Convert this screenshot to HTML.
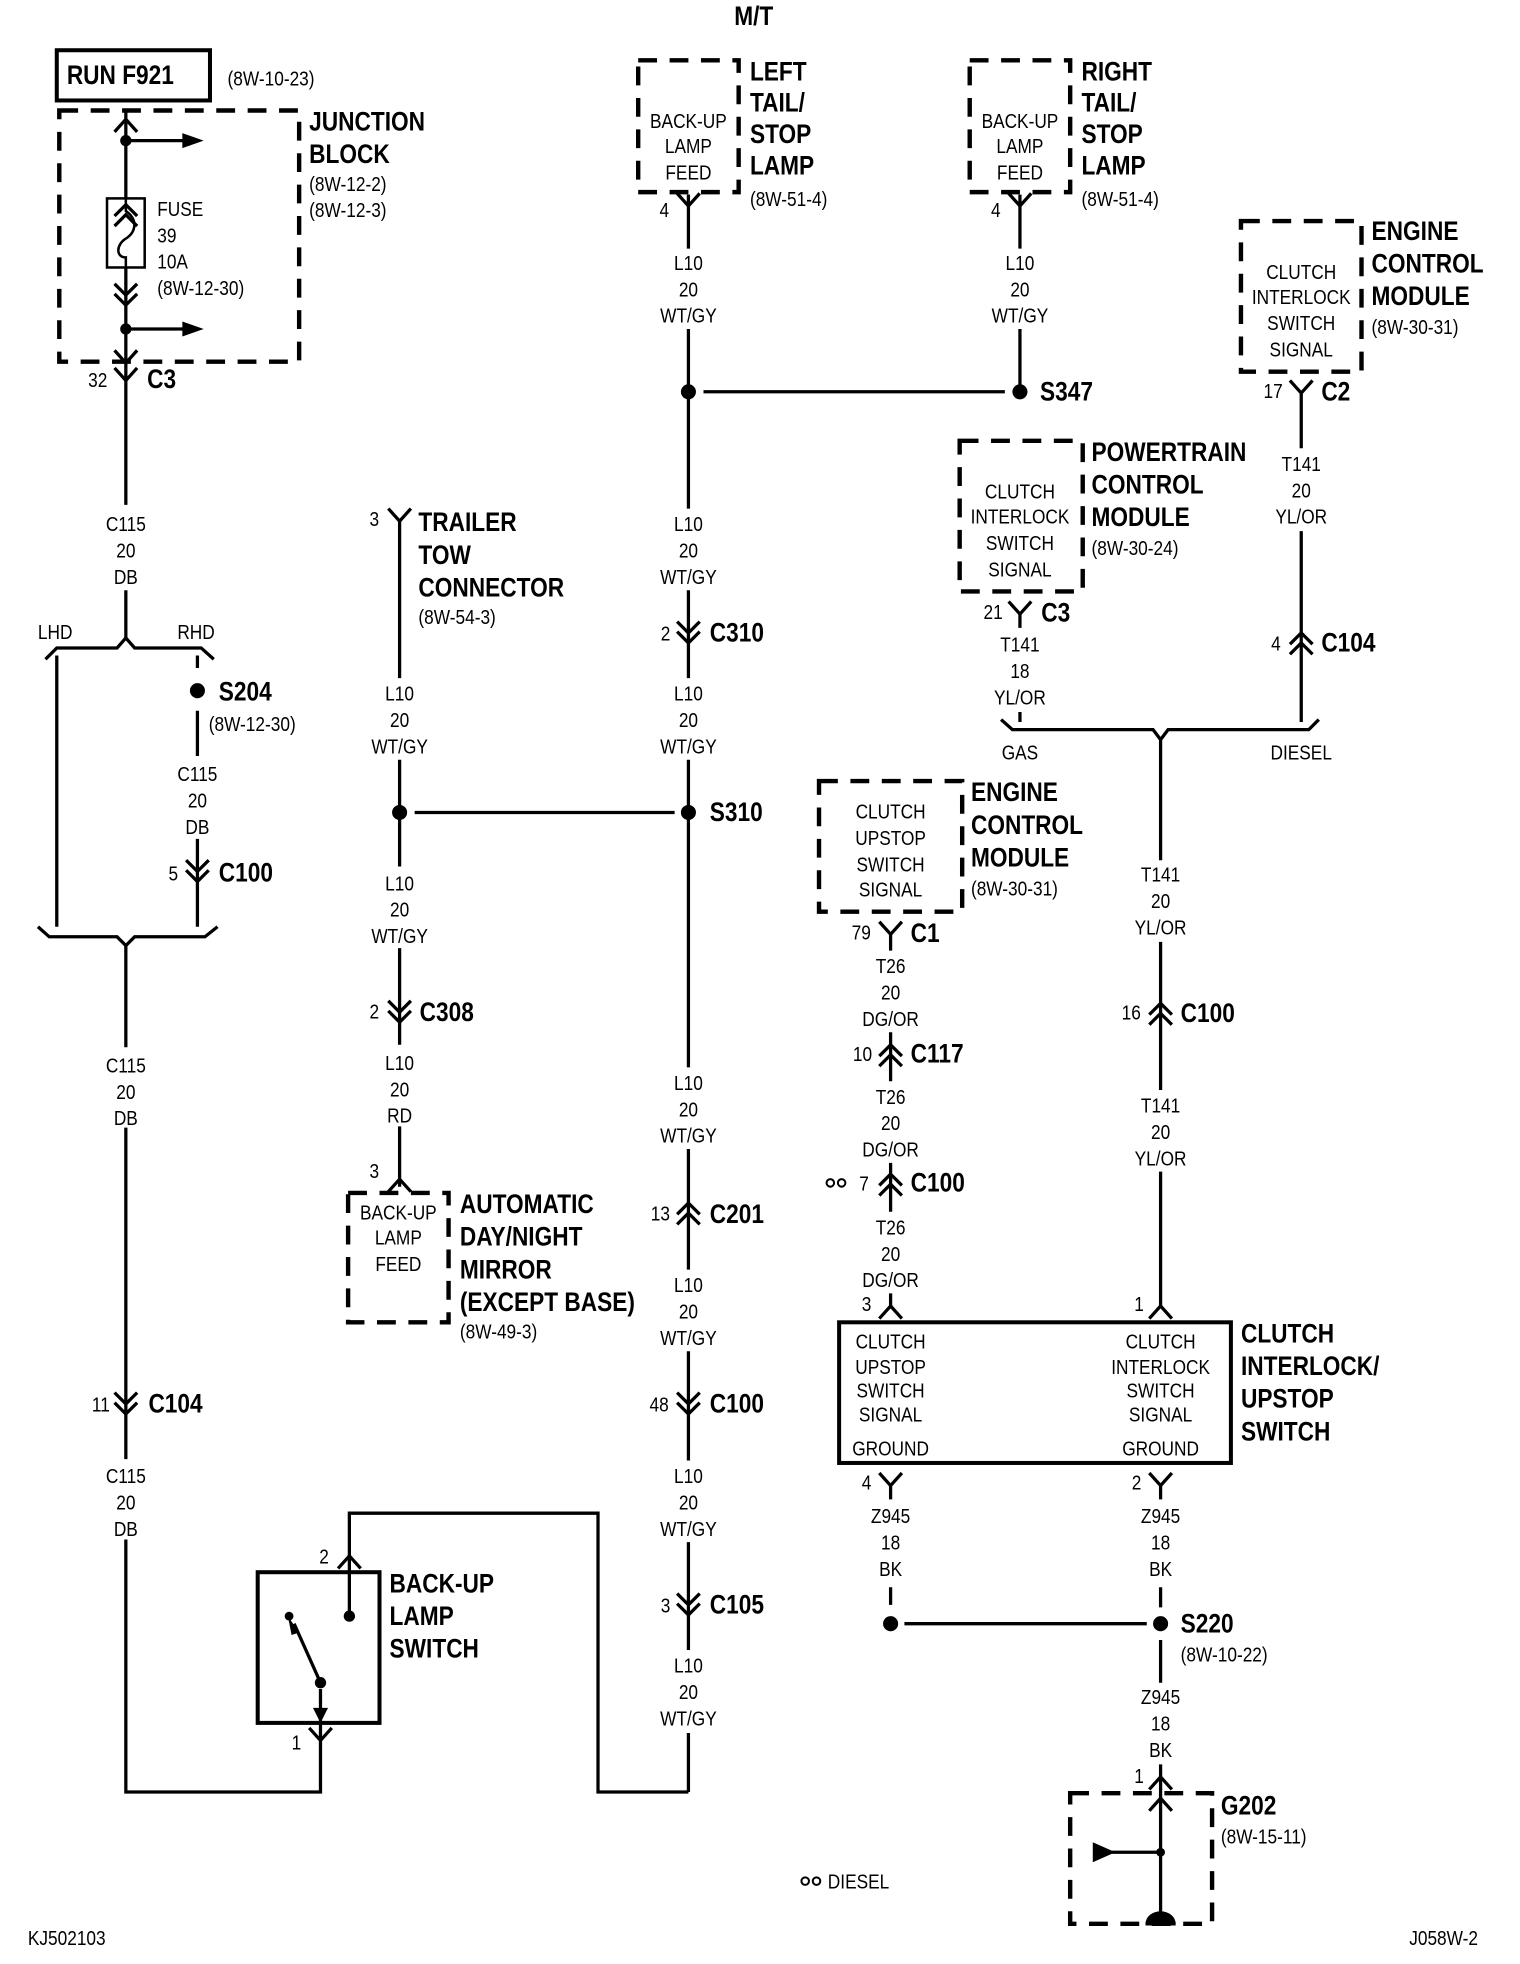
<!DOCTYPE html>
<html><head><meta charset="utf-8"><style>
html,body{margin:0;padding:0;background:#fff}
svg{display:block}
text{font-family:"Liberation Sans Narrow","Liberation Sans",sans-serif;fill:#000;transform-box:fill-box;transform-origin:0 50%;transform:scaleX(.86)}
text.m{transform-origin:50% 50%}
.s{font-size:16px}
.b{font-size:21px;font-weight:bold}
.m{text-anchor:middle}
.w{stroke:#000;stroke-width:2.6;fill:none}
.d{stroke:#000;stroke-width:3.5;fill:none;stroke-dasharray:15 10}
.k{stroke:#000;stroke-width:3.2;fill:none}
</style></head><body>
<svg width="1520" height="1964" viewBox="0 0 1210 1564" xmlns="http://www.w3.org/2000/svg">
<defs>
<path id="y" d="M-9,-9 L0,1 L9,-9" stroke="#000" stroke-width="2.6" fill="none"/>
<path id="c" d="M-9,9 L0,-1 L9,9" stroke="#000" stroke-width="2.6" fill="none"/>
<path id="dd" d="M-9,-10 L0,-1 L9,-10 M-9,-2 L0,7 L9,-2" stroke="#000" stroke-width="2.6" fill="none"/>
<path id="du" d="M-9,10 L0,1 L9,10 M-9,2 L0,-7 L9,2" stroke="#000" stroke-width="2.6" fill="none"/>
</defs>

<text x="600" y="20" class="b m">M/T</text>

<!-- Junction block -->
<rect x="45" y="40" width="122" height="40" class="k"/>
<text x="53" y="67" class="b">RUN F921</text>
<text x="181" y="68" class="s">(8W-10-23)</text>
<rect x="47" y="88" width="191" height="200" class="d"/>
<text x="246" y="104" class="b">JUNCTION</text>
<text x="246" y="130" class="b">BLOCK</text>
<text x="246" y="152" class="s">(8W-12-2)</text>
<text x="246" y="173" class="s">(8W-12-3)</text>
<path class="w" d="M100,88 V158 M100,213 V402 M100,470 V508"/>
<use href="#c" x="100" y="96"/>
<circle cx="100" cy="112" r="4.5"/>
<path class="w" d="M100,112 H148"/><path d="M145,106 L162,112 L145,118Z"/>
<use href="#du" x="100" y="170"/>
<rect x="85" y="158" width="30" height="55" fill="none" stroke="#000" stroke-width="2"/>
<path d="M100,158 V168 C110,175 108,185 100,190 C92,195 92,205 100,205 V213" fill="none" stroke="#000" stroke-width="2"/>
<text x="125" y="172" class="s">FUSE</text>
<text x="125" y="193" class="s">39</text>
<text x="125" y="214" class="s">10A</text>
<text x="125" y="235" class="s">(8W-12-30)</text>
<use href="#dd" x="100" y="236"/>
<circle cx="100" cy="262" r="4.5"/>
<path class="w" d="M100,262 H148"/><path d="M145,256 L162,262 L145,268Z"/>
<use href="#y" x="100" y="288"/>
<use href="#y" x="100" y="302"/>
<text x="70" y="308" class="s">32</text>
<text x="117" y="309" class="b">C3</text>
<text x="100" y="423" class="s m">C115</text>
<text x="100" y="444" class="s m">20</text>
<text x="100" y="465" class="s m">DB</text>

<!-- LHD/RHD -->
<path class="w" d="M36,525 L45,516 H93 L100,508 L107,516 H160 L170,525"/>
<text x="30" y="509" class="s">LHD</text>
<text x="141" y="509" class="s">RHD</text>
<path class="w" d="M45,522 V738 M157,522 V532 M157,566 V602 M157,668 V738"/>
<circle cx="157" cy="550" r="6"/>
<text x="174" y="558" class="b">S204</text>
<text x="166" y="582" class="s">(8W-12-30)</text>
<text x="157" y="622" class="s m">C115</text>
<text x="157" y="643" class="s m">20</text>
<text x="157" y="664" class="s m">DB</text>
<use href="#dd" x="157" y="695"/>
<text x="134" y="701" class="s">5</text>
<text x="174" y="702" class="b">C100</text>
<path class="w" d="M30,738 L39,746 H93 L100,753 L107,746 H163 L173,738"/>
<path class="w" d="M100,753 V834 M100,898 V1162 M100,1226 V1427 H255 V1385"/>
<text x="100" y="854" class="s m">C115</text>
<text x="100" y="875" class="s m">20</text>
<text x="100" y="896" class="s m">DB</text>
<use href="#dd" x="100" y="1119"/>
<text x="73" y="1124" class="s">11</text>
<text x="118" y="1125" class="b">C104</text>
<text x="100" y="1181" class="s m">C115</text>
<text x="100" y="1202" class="s m">20</text>
<text x="100" y="1223" class="s m">DB</text>

<!-- Backup lamp switch -->
<rect x="205" y="1252" width="97" height="120" class="k"/>
<use href="#y" x="255" y="1385"/>
<text x="232" y="1393" class="s">1</text>
<path class="w" d="M255,1385 V1345"/>
<path d="M249,1360 L255,1372 L261,1360Z"/>
<circle cx="255" cy="1340" r="4.5"/>
<path class="w" d="M255,1340 L234,1293"/>
<path d="M229,1287 L238,1300 L232,1302Z"/>
<circle cx="230" cy="1287" r="3.5"/>
<circle cx="278" cy="1287" r="4.5"/>
<path class="w" d="M278,1287 V1205 H476 V1427 H548"/>
<use href="#c" x="278" y="1240"/>
<text x="254" y="1245" class="s">2</text>
<text x="310" y="1268" class="b">BACK-UP</text>
<text x="310" y="1294" class="b">LAMP</text>
<text x="310" y="1320" class="b">SWITCH</text>

<!-- Left tail lamp -->
<rect x="508" y="48" width="80" height="105" class="d"/>
<text x="548" y="102" class="s m">BACK-UP</text>
<text x="548" y="122" class="s m">LAMP</text>
<text x="548" y="143" class="s m">FEED</text>
<text x="597" y="64" class="b">LEFT</text>
<text x="597" y="89" class="b">TAIL/</text>
<text x="597" y="114" class="b">STOP</text>
<text x="597" y="139" class="b">LAMP</text>
<text x="597" y="164" class="s">(8W-51-4)</text>
<use href="#y" x="548" y="163"/>
<text x="525" y="173" class="s">4</text>
<path class="w" d="M548,155 V198 M548,262 V405 M548,470 V540 M548,605 V850 M548,915 V1011 M548,1076 V1163 M548,1228 V1314 M548,1380 V1427"/>
<text x="548" y="215" class="s m">L10</text>
<text x="548" y="236" class="s m">20</text>
<text x="548" y="257" class="s m">WT/GY</text>
<circle cx="548" cy="312" r="6"/>
<path class="w" d="M560,312 H800"/>

<!-- Right tail lamp -->
<rect x="772" y="48" width="80" height="105" class="d"/>
<text x="812" y="102" class="s m">BACK-UP</text>
<text x="812" y="122" class="s m">LAMP</text>
<text x="812" y="143" class="s m">FEED</text>
<text x="861" y="64" class="b">RIGHT</text>
<text x="861" y="89" class="b">TAIL/</text>
<text x="861" y="114" class="b">STOP</text>
<text x="861" y="139" class="b">LAMP</text>
<text x="861" y="164" class="s">(8W-51-4)</text>
<use href="#y" x="812" y="163"/>
<text x="789" y="173" class="s">4</text>
<path class="w" d="M812,155 V198 M812,262 V312"/>
<text x="812" y="215" class="s m">L10</text>
<text x="812" y="236" class="s m">20</text>
<text x="812" y="257" class="s m">WT/GY</text>
<circle cx="812" cy="312" r="6"/>
<text x="828" y="319" class="b">S347</text>

<!-- middle column labels -->
<text x="548" y="423" class="s m">L10</text>
<text x="548" y="444" class="s m">20</text>
<text x="548" y="465" class="s m">WT/GY</text>
<use href="#dd" x="548" y="505"/>
<text x="526" y="510" class="s">2</text>
<text x="565" y="511" class="b">C310</text>
<text x="548" y="558" class="s m">L10</text>
<text x="548" y="579" class="s m">20</text>
<text x="548" y="600" class="s m">WT/GY</text>
<circle cx="548" cy="647" r="6"/>
<text x="565" y="654" class="b">S310</text>
<text x="548" y="868" class="s m">L10</text>
<text x="548" y="889" class="s m">20</text>
<text x="548" y="910" class="s m">WT/GY</text>
<use href="#du" x="548" y="965"/>
<text x="518" y="972" class="s">13</text>
<text x="565" y="974" class="b">C201</text>
<text x="548" y="1029" class="s m">L10</text>
<text x="548" y="1050" class="s m">20</text>
<text x="548" y="1071" class="s m">WT/GY</text>
<use href="#dd" x="548" y="1119"/>
<text x="517" y="1124" class="s">48</text>
<text x="565" y="1125" class="b">C100</text>
<text x="548" y="1181" class="s m">L10</text>
<text x="548" y="1202" class="s m">20</text>
<text x="548" y="1223" class="s m">WT/GY</text>
<use href="#dd" x="548" y="1279"/>
<text x="526" y="1284" class="s">3</text>
<text x="565" y="1285" class="b">C105</text>
<text x="548" y="1332" class="s m">L10</text>
<text x="548" y="1353" class="s m">20</text>
<text x="548" y="1374" class="s m">WT/GY</text>

<!-- Trailer tow -->
<use href="#y" x="318" y="414"/>
<text x="294" y="419" class="s">3</text>
<text x="333" y="423" class="b">TRAILER</text>
<text x="333" y="449" class="b">TOW</text>
<text x="333" y="475" class="b">CONNECTOR</text>
<text x="333" y="497" class="s">(8W-54-3)</text>
<path class="w" d="M318,414 V540 M318,605 V690 M318,755 V832 M318,897 V945 M330,647 H537"/>
<text x="318" y="558" class="s m">L10</text>
<text x="318" y="579" class="s m">20</text>
<text x="318" y="600" class="s m">WT/GY</text>
<circle cx="318" cy="647" r="6"/>
<text x="318" y="709" class="s m">L10</text>
<text x="318" y="730" class="s m">20</text>
<text x="318" y="751" class="s m">WT/GY</text>
<use href="#dd" x="318" y="807"/>
<text x="294" y="811" class="s">2</text>
<text x="334" y="813" class="b">C308</text>
<text x="318" y="852" class="s m">L10</text>
<text x="318" y="873" class="s m">20</text>
<text x="318" y="894" class="s m">RD</text>
<use href="#c" x="318" y="940"/>
<text x="294" y="938" class="s">3</text>
<rect x="277" y="950" width="80" height="103" class="d"/>
<text x="317" y="971" class="s m">BACK-UP</text>
<text x="317" y="991" class="s m">LAMP</text>
<text x="317" y="1012" class="s m">FEED</text>
<text x="366" y="966" class="b">AUTOMATIC</text>
<text x="366" y="992" class="b">DAY/NIGHT</text>
<text x="366" y="1018" class="b">MIRROR</text>
<text x="366" y="1044" class="b">(EXCEPT BASE)</text>
<text x="366" y="1066" class="s">(8W-49-3)</text>

<!-- PCM -->
<rect x="764" y="351" width="98" height="120" class="d"/>
<text x="812" y="397" class="s m">CLUTCH</text>
<text x="812" y="417" class="s m">INTERLOCK</text>
<text x="812" y="438" class="s m">SWITCH</text>
<text x="812" y="459" class="s m">SIGNAL</text>
<text x="869" y="367" class="b">POWERTRAIN</text>
<text x="869" y="393" class="b">CONTROL</text>
<text x="869" y="419" class="b">MODULE</text>
<text x="869" y="442" class="s">(8W-30-24)</text>
<use href="#y" x="812" y="488"/>
<text x="783" y="493" class="s">21</text>
<text x="829" y="495" class="b">C3</text>
<path class="w" d="M812,488 V500 M812,567 V575"/>
<text x="812" y="519" class="s m">T141</text>
<text x="812" y="540" class="s m">18</text>
<text x="812" y="561" class="s m">YL/OR</text>

<!-- ECM top right -->
<rect x="988" y="176" width="96" height="120" class="d"/>
<text x="1036" y="222" class="s m">CLUTCH</text>
<text x="1036" y="242" class="s m">INTERLOCK</text>
<text x="1036" y="263" class="s m">SWITCH</text>
<text x="1036" y="284" class="s m">SIGNAL</text>
<text x="1092" y="191" class="b">ENGINE</text>
<text x="1092" y="217" class="b">CONTROL</text>
<text x="1092" y="243" class="b">MODULE</text>
<text x="1092" y="266" class="s">(8W-30-31)</text>
<use href="#y" x="1036" y="312"/>
<text x="1006" y="317" class="s">17</text>
<text x="1052" y="319" class="b">C2</text>
<path class="w" d="M1036,312 V357 M1036,423 V575"/>
<text x="1036" y="375" class="s m">T141</text>
<text x="1036" y="396" class="s m">20</text>
<text x="1036" y="417" class="s m">YL/OR</text>
<use href="#du" x="1036" y="511"/>
<text x="1012" y="518" class="s">4</text>
<text x="1052" y="519" class="b">C104</text>

<path class="w" d="M797,573 L806,581 H918 L924,589 L930,581 H1042 L1050,573"/>
<text x="812" y="605" class="s m">GAS</text>
<text x="1036" y="605" class="s m">DIESEL</text>
<path class="w" d="M924,589 V685 M924,750 V868 M924,933 V1040"/>
<text x="924" y="702" class="s m">T141</text>
<text x="924" y="723" class="s m">20</text>
<text x="924" y="744" class="s m">YL/OR</text>
<use href="#du" x="924" y="806"/>
<text x="893" y="812" class="s">16</text>
<text x="940" y="814" class="b">C100</text>
<text x="924" y="886" class="s m">T141</text>
<text x="924" y="907" class="s m">20</text>
<text x="924" y="928" class="s m">YL/OR</text>
<use href="#c" x="924" y="1041"/>
<text x="903" y="1044" class="s">1</text>

<!-- ECM clutch upstop -->
<rect x="652" y="622" width="114" height="104" class="d"/>
<text x="709" y="652" class="s m">CLUTCH</text>
<text x="709" y="673" class="s m">UPSTOP</text>
<text x="709" y="694" class="s m">SWITCH</text>
<text x="709" y="714" class="s m">SIGNAL</text>
<text x="773" y="638" class="b">ENGINE</text>
<text x="773" y="664" class="b">CONTROL</text>
<text x="773" y="690" class="b">MODULE</text>
<text x="773" y="713" class="s">(8W-30-31)</text>
<use href="#y" x="709" y="743"/>
<text x="678" y="748" class="s">79</text>
<text x="725" y="750" class="b">C1</text>
<path class="w" d="M709,743 V757 M709,822 V861 M709,926 V965 M709,1030 V1041"/>
<text x="709" y="775" class="s m">T26</text>
<text x="709" y="796" class="s m">20</text>
<text x="709" y="817" class="s m">DG/OR</text>
<use href="#du" x="709" y="839"/>
<text x="679" y="845" class="s">10</text>
<text x="725" y="846" class="b">C117</text>
<text x="709" y="879" class="s m">T26</text>
<text x="709" y="900" class="s m">20</text>
<text x="709" y="921" class="s m">DG/OR</text>
<use href="#du" x="709" y="942"/>
<circle cx="661" cy="942" r="3" fill="none" stroke="#000" stroke-width="1.6"/>
<circle cx="670" cy="942" r="3" fill="none" stroke="#000" stroke-width="1.6"/>
<text x="684" y="948" class="s">7</text>
<text x="725" y="949" class="b">C100</text>
<text x="709" y="983" class="s m">T26</text>
<text x="709" y="1004" class="s m">20</text>
<text x="709" y="1025" class="s m">DG/OR</text>
<use href="#c" x="709" y="1041"/>
<text x="686" y="1044" class="s">3</text>

<!-- clutch interlock switch -->
<rect x="668" y="1053" width="312" height="112" class="k"/>
<text x="709" y="1074" class="s m">CLUTCH</text>
<text x="709" y="1094" class="s m">UPSTOP</text>
<text x="709" y="1113" class="s m">SWITCH</text>
<text x="709" y="1132" class="s m">SIGNAL</text>
<text x="709" y="1159" class="s m">GROUND</text>
<text x="924" y="1074" class="s m">CLUTCH</text>
<text x="924" y="1094" class="s m">INTERLOCK</text>
<text x="924" y="1113" class="s m">SWITCH</text>
<text x="924" y="1132" class="s m">SIGNAL</text>
<text x="924" y="1159" class="s m">GROUND</text>
<text x="988" y="1069" class="b">CLUTCH</text>
<text x="988" y="1095" class="b">INTERLOCK/</text>
<text x="988" y="1121" class="b">UPSTOP</text>
<text x="988" y="1147" class="b">SWITCH</text>
<use href="#y" x="709" y="1182"/>
<use href="#y" x="924" y="1182"/>
<text x="686" y="1186" class="s">4</text>
<text x="901" y="1186" class="s">2</text>
<path class="w" d="M709,1182 V1194 M924,1182 V1194 M709,1264 V1278 M924,1264 V1280 M720,1293 H913 M924,1306 V1340 M924,1405 V1530"/>
<text x="709" y="1213" class="s m">Z945</text>
<text x="709" y="1234" class="s m">18</text>
<text x="709" y="1255" class="s m">BK</text>
<text x="924" y="1213" class="s m">Z945</text>
<text x="924" y="1234" class="s m">18</text>
<text x="924" y="1255" class="s m">BK</text>
<circle cx="709" cy="1293" r="6"/>
<circle cx="924" cy="1293" r="6"/>
<text x="940" y="1300" class="b">S220</text>
<text x="940" y="1323" class="s">(8W-10-22)</text>
<text x="924" y="1357" class="s m">Z945</text>
<text x="924" y="1378" class="s m">18</text>
<text x="924" y="1399" class="s m">BK</text>
<use href="#c" x="924" y="1416"/>
<text x="903" y="1420" class="s">1</text>
<rect x="852" y="1428" width="113" height="104" class="d"/>
<use href="#c" x="924" y="1433"/>
<path class="w" d="M884,1475 H924"/>
<path d="M870,1467 L888,1475 L870,1483Z"/>
<circle cx="924" cy="1475" r="3.5"/>
<path d="M912,1532 A12,10 0 0 1 936,1532Z"/>
<path class="w" d="M912,1532 H936"/>
<text x="972" y="1445" class="b">G202</text>
<text x="972" y="1468" class="s">(8W-15-11)</text>

<circle cx="641" cy="1498" r="3" fill="none" stroke="#000" stroke-width="1.6"/>
<circle cx="650" cy="1498" r="3" fill="none" stroke="#000" stroke-width="1.6"/>
<text x="659" y="1504" class="s">DIESEL</text>
<text x="22" y="1549" class="s">KJ502103</text>
<text x="1122" y="1549" class="s">J058W-2</text>
</svg>
</body></html>
